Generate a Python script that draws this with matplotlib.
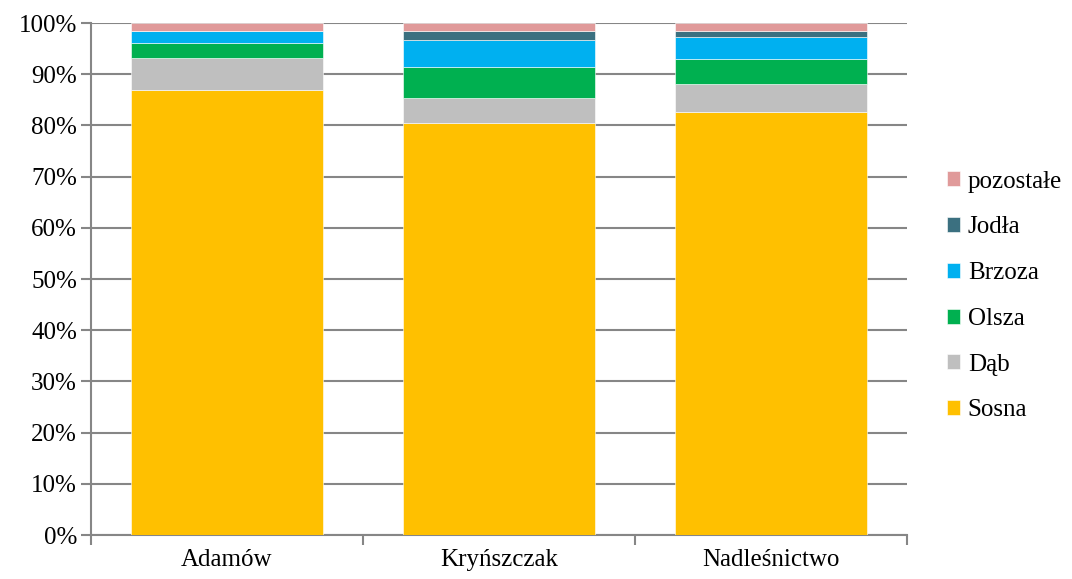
import matplotlib
matplotlib.use("Agg")
import matplotlib.pyplot as plt
import numpy as np
from matplotlib.ticker import FixedLocator, FuncFormatter

categories = ["Adamów", "Kryńszczak", "Nadleśnictwo"]
species = ["Sosna", "Dąb", "Olsza", "Brzoza", "Jodła", "pozostałe"]
colors = ["#FFC000", "#BFBFBF", "#00B050", "#00B0F0", "#3B7080", "#E09A9A"]

sosna = [86.9, 80.5, 82.7]
dab = [6.3, 4.9, 5.4]
olsza = [2.8, 6.1, 4.9]
brzoza = [2.4, 5.1, 4.2]
jodla = [0.1, 1.8, 1.2]
pozostale = [1.5, 1.6, 1.6]

series = [sosna, dab, olsza, brzoza, jodla, pozostale]

plt.rcParams['font.family'] = ['Liberation Serif', 'DejaVu Serif']
grid_color = "#868686"
fs = 18

fig = plt.figure(figsize=(10.72, 5.79), dpi=100)
ax = fig.add_axes([91 / 1072, 1 - 535 / 579, (907 - 91) / 1072, (535 - 23) / 579])

x = np.arange(len(categories))
bottom = np.zeros(len(categories))
handles = []
for name, vals, col in zip(species, series, colors):
    vals = np.array(vals, dtype=float)
    h = ax.bar(x, vals, 0.705, bottom=bottom, color=col, label=name,
               edgecolor="white", linewidth=0.4, zorder=3)
    handles.append(h)
    bottom += vals

ax.set_xlim(-0.5, len(categories) - 0.5)
ax.set_ylim(0, 100)
ax.set_yticks(np.arange(0, 101, 10))
ax.yaxis.set_major_formatter(FuncFormatter(lambda v, p: "%d%%" % v))
ax.grid(axis="y", color=grid_color, linewidth=1.5, zorder=0)
ax.set_axisbelow(True)

ax.set_xticks(x)
ax.set_xticklabels(categories)
ax.xaxis.set_minor_locator(FixedLocator(np.arange(-0.5, len(categories), 1.0)))
ax.tick_params(axis="x", which="major", length=0, labelsize=fs, pad=10)
ax.tick_params(axis="x", which="minor", length=7, width=1.5, color=grid_color)
ax.tick_params(axis="y", length=7, width=1.5, color=grid_color, labelsize=fs, pad=3)

for s in ["top", "right"]:
    ax.spines[s].set_visible(False)
for s in ["left", "bottom"]:
    ax.spines[s].set_color(grid_color)
    ax.spines[s].set_linewidth(1.5)

leg = fig.legend(handles[::-1], species[::-1], loc="center left",
                 bbox_to_anchor=(934 / 1072, 1 - 296 / 579), frameon=False,
                 fontsize=fs, handlelength=0.55, handleheight=0.55,
                 handletextpad=0.3, labelspacing=0.95, borderpad=0)

fig.savefig("out.png", dpi=100)
